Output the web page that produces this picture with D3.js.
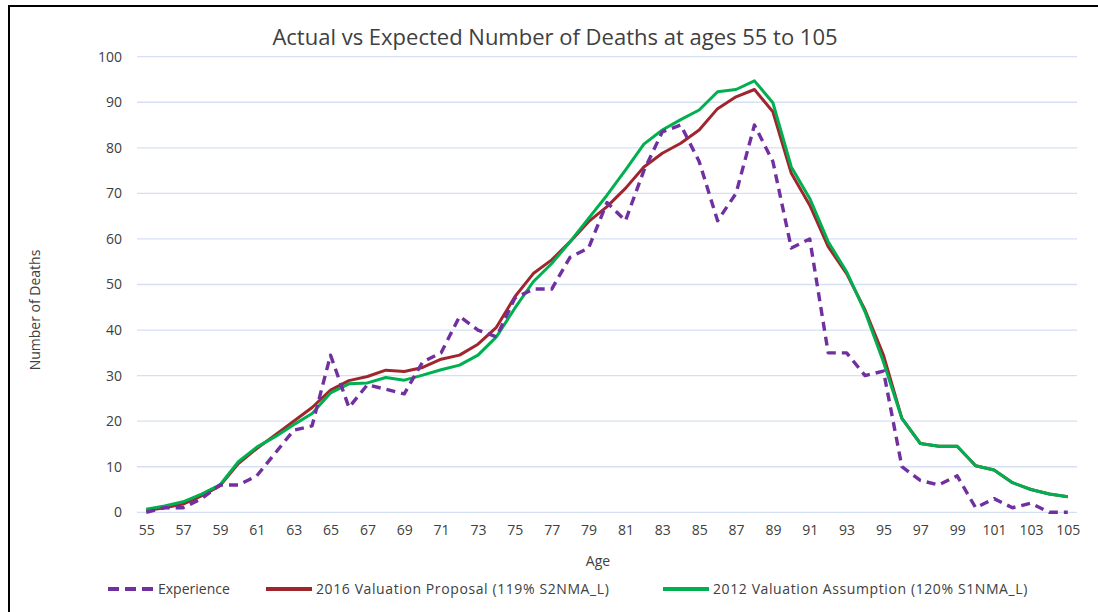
<!DOCTYPE html>
<html>
<head>
<meta charset="utf-8">
<script src="https://cdn.jsdelivr.net/npm/d3@7"></script>
<style>
  html, body { margin: 0; padding: 0; background: #fff; }
  svg { display: block; }
  text { font-family: "Open Sans", "Noto Sans", sans-serif; fill: #404040; }
</style>
</head>
<body>
<svg id="chart" width="1098" height="612"></svg>
<script>
// ---- Data ----
const ages = d3.range(55, 106);
const experience = [0, 1, 1, 3, 6, 6, 8, 13, 18, 19, 34.5, 23, 28, 27, 26, 33, 35, 43, 40, 38.5, 47, 49, 49, 56, 58, 68, 64, 75, 83.5, 85, 77, 64, 70, 85, 77, 58, 60, 35, 35, 30, 31, 10, 7, 6, 8, 1, 3, 1, 2, 0, 0];
const valuation2016 = [0.4, 1, 1.8, 3.6, 5.8, 10.7, 14, 17, 20, 23, 26.8, 28.9, 29.8, 31.2, 30.9, 31.8, 33.6, 34.5, 36.9, 40.6, 47.3, 52.4, 55.4, 59.4, 63.8, 67.1, 71.1, 75.8, 78.8, 81, 83.9, 88.6, 91.2, 92.8, 87.9, 74.4, 67.4, 58.3, 52.4, 44.4, 34.5, 20.6, 15.1, 14.5, 14.5, 10.2, 9.3, 6.5, 5, 4, 3.4];
const valuation2012 = [0.7, 1.4, 2.3, 4, 6, 11.1, 14.3, 16.6, 19.2, 21.7, 26.2, 28.2, 28.4, 29.6, 29, 30.1, 31.3, 32.3, 34.5, 38.5, 44.8, 50.6, 54.6, 59.4, 64.5, 69.6, 75.1, 80.8, 83.9, 86.2, 88.3, 92.3, 92.8, 94.7, 89.9, 75.8, 68.9, 59.4, 52.8, 44, 33, 20.6, 15.1, 14.5, 14.5, 10.2, 9.3, 6.5, 5, 4, 3.4];
const xTickLabels = d3.range(55, 106, 2);
const yTicks = d3.range(0, 101, 10);
const seriesNames = ["Experience", "2016 Valuation Proposal (119% S2NMA_L)", "2012 Valuation Assumption (120% S1NMA_L)"];
const seriesColors = ["#7030a0", "#a0262e", "#00b050"];

const series = [
  { name: seriesNames[0], values: experience, color: seriesColors[0], dash: "9,6" },
  { name: seriesNames[1], values: valuation2016, color: seriesColors[1], dash: null },
  { name: seriesNames[2], values: valuation2012, color: seriesColors[2], dash: null }
];

// ---- Layout ----
const svg = d3.select("#chart");
const plot = { left: 137, right: 1077, top: 56.7, bottom: 512.3 };

// outer frame
svg.append("rect").attr("x", 9).attr("y", 6).attr("width", 1100).attr("height", 620)
  .attr("fill", "none").attr("stroke", "#000").attr("stroke-width", 2);

const x = d3.scalePoint().domain(ages).range([plot.left, plot.right]).padding(0.5);
const y = d3.scaleLinear().domain([0, 100]).range([plot.bottom, plot.top]);

// gridlines
svg.append("g").selectAll("line").data(yTicks).join("line")
  .attr("x1", plot.left).attr("x2", plot.right)
  .attr("y1", d => y(d)).attr("y2", d => y(d))
  .attr("stroke", "#d6e0f5").attr("stroke-width", 1.3);

// y axis
const yAxis = svg.append("g").attr("transform", `translate(${plot.left},0)`)
  .call(d3.axisLeft(y).tickValues(yTicks).tickSize(0).tickPadding(15));
yAxis.select(".domain").remove();
yAxis.selectAll("text").attr("font-size", 14).attr("fill", "#404040")
  .style("font-family", '"Open Sans", sans-serif');

// x axis
const xAxis = svg.append("g").attr("transform", `translate(0,${plot.bottom})`)
  .call(d3.axisBottom(x).tickValues(xTickLabels).tickSize(0).tickPadding(13));
xAxis.select(".domain").remove();
xAxis.selectAll("text").attr("font-size", 14).attr("fill", "#404040")
  .style("font-family", '"Open Sans", sans-serif');

// lines
const line = d3.line().x((d, i) => x(ages[i])).y(d => y(d));
[series[1], series[2], series[0]].forEach(s => {
  svg.append("path").datum(s.values)
    .attr("d", line)
    .attr("fill", "none")
    .attr("stroke", s.color)
    .attr("stroke-width", s.dash ? 3.4 : 3)
    .attr("stroke-linejoin", "round")
    .attr("stroke-dasharray", s.dash);
});

// title
svg.append("text").attr("x", 555).attr("y", 45).attr("text-anchor", "middle")
  .attr("font-size", 22).attr("fill", "#000").text("Actual vs Expected Number of Deaths at ages 55 to 105");

// axis titles
svg.append("text").attr("x", 598).attr("y", 566).attr("text-anchor", "middle")
  .attr("font-size", 14).attr("fill", "#000").text("Age");
svg.append("text").attr("transform", "translate(40,310) rotate(-90)").attr("text-anchor", "middle")
  .attr("font-size", 14).attr("fill", "#000").text("Number of Deaths");

// legend
const legendX = [108, 266, 663];
const lg = svg.append("g");
series.forEach((s, i) => {
  const g = lg.append("g").attr("transform", `translate(${legendX[i]},589)`);
  g.append("line").attr("x1", 0).attr("x2", 46).attr("y1", 0).attr("y2", 0)
    .attr("stroke", s.color).attr("stroke-width", 4)
    .attr("stroke-dasharray", s.dash ? "11,6" : null);
  g.append("text").attr("x", 50).attr("y", 5).attr("font-size", 14)
    .attr("fill", "#404040").attr("letter-spacing", i === 0 ? 0 : 0.6).text(s.name);
});
</script>
</body>
</html>
